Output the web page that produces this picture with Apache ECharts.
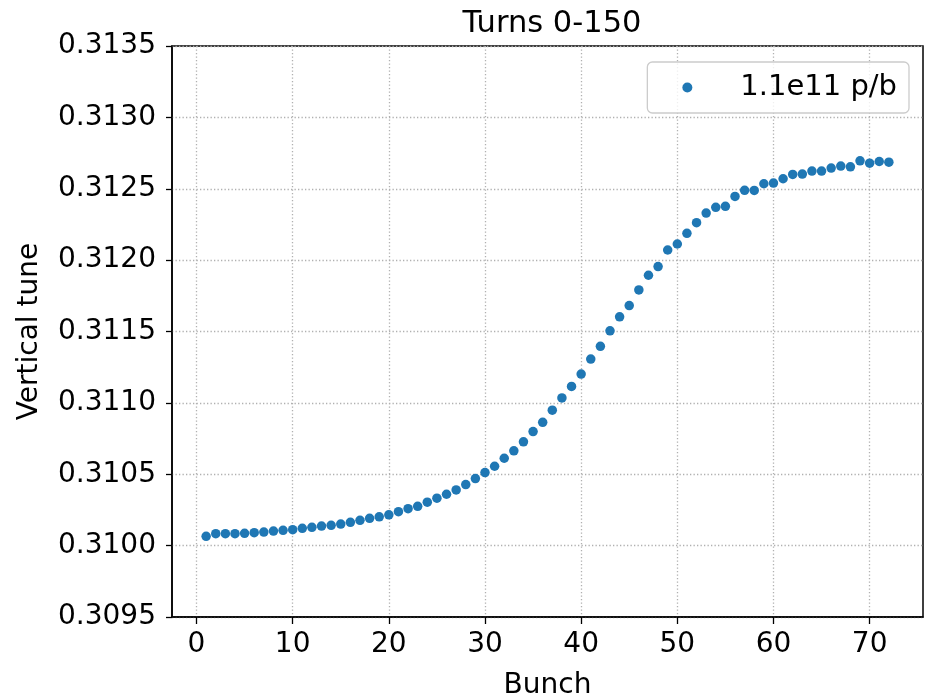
<!DOCTYPE html>
<html>
<head>
<meta charset="utf-8">
<script src="https://cdn.jsdelivr.net/npm/echarts@6/dist/echarts.min.js"></script>
<style>html,body{margin:0;padding:0;background:#fff;}#c{width:928px;height:696px;}</style>
</head>
<body>
<div id="c"></div>
<script>
const titleText = 'Turns 0-150';
const xName = 'Bunch';
const yName = 'Vertical tune';
const seriesName = '1.1e11 p/b';
const bunches = [1,2,3,4,5,6,7,8,9,10,11,12,13,14,15,16,17,18,19,20,21,22,23,24,25,26,27,28,29,30,31,32,33,34,35,36,37,38,39,40,41,42,43,44,45,46,47,48,49,50,51,52,53,54,55,56,57,58,59,60,61,62,63,64,65,66,67,68,69,70,71,72];
const tune = [0.310065,0.310084,0.310084,0.310084,0.310086,0.310091,0.310095,0.310102,0.310107,0.310112,
  0.310121,0.310128,0.310137,0.310142,0.310151,0.310163,0.310177,0.310191,0.310202,0.310216,
  0.310238,0.310259,0.310275,0.310304,0.310332,0.310360,0.310390,0.310428,0.310470,0.310512,
  0.310556,0.310612,0.310664,0.310727,0.310799,0.310864,0.310949,0.311035,0.311115,0.311202,
  0.311307,0.311396,0.311505,0.311603,0.311682,0.311791,0.311894,0.311955,0.312071,0.312113,
  0.312188,0.312262,0.312330,0.312370,0.312377,0.312446,0.312489,0.312488,0.312535,0.312540,
  0.312570,0.312600,0.312603,0.312624,0.312624,0.312645,0.312659,0.312654,0.312696,0.312679,
  0.312691,0.312686];
const xTicks = [0,10,20,30,40,50,60,70];
const xRange = [-2.55, 75.55];
const yRange = [0.3095, 0.3135];
const yStep = 0.0005;

const FONT = 'DejaVu Sans';
const chart = echarts.init(document.getElementById('c'), null, {renderer: 'canvas'});
const pts = bunches.map((b, i) => [b, tune[i]]);
const gridLine = {show: true, lineStyle: {color: '#b0b0b0', width: 1.3, type: [1.3, 2.2]}};
chart.setOption({
  animation: false,
  backgroundColor: '#fff',
  title: {text: titleText, left: 547, top: 4, textAlign: 'center',
    textStyle: {fontFamily: FONT, fontSize: 30.5, fontWeight: 'normal', color: '#000'}},
  legend: {
    data: [seriesName], right: 19, top: 62, orient: 'horizontal',
    padding: [11, 12, 11, 35], itemWidth: 10, itemHeight: 10, icon: 'circle',
    backgroundColor: 'rgba(255,255,255,0.8)', borderColor: '#cccccc', borderWidth: 1.3, borderRadius: 5,
    textStyle: {fontFamily: FONT, fontSize: 29, color: '#000', padding: [0, 0, 0, 43]}
  },
  grid: {left: 172, right: 5, top: 46, bottom: 79, show: true, borderColor: '#000', borderWidth: 1.5,
    containLabel: false, outerBoundsMode: 'none'},
  xAxis: {
    type: 'value', min: xRange[0], max: xRange[1],
    name: xName, nameLocation: 'middle', nameGap: 55,
    nameTextStyle: {fontFamily: FONT, fontSize: 28, color: '#000'},
    axisLine: {show: true, onZero: false, lineStyle: {color: '#000', width: 1.5}},
    axisTick: {show: true, inside: false, length: 7, customValues: xTicks, lineStyle: {color: '#000', width: 1.3}},
    axisLabel: {customValues: xTicks, margin: 14, fontFamily: FONT, fontSize: 28, color: '#000'},
    splitLine: gridLine
  },
  yAxis: {
    type: 'value', min: yRange[0], max: yRange[1], interval: yStep,
    name: yName, nameLocation: 'middle', nameGap: 128, nameRotate: 90,
    nameTextStyle: {fontFamily: FONT, fontSize: 28, color: '#000'},
    axisLine: {show: true, onZero: false, lineStyle: {color: '#000', width: 1.5}},
    axisTick: {show: true, inside: false, length: 6, lineStyle: {color: '#000', width: 1.3}},
    axisLabel: {margin: 16, fontFamily: FONT, fontSize: 28, color: '#000', formatter: v => v.toFixed(4)},
    splitLine: gridLine
  },
  series: [{
    name: seriesName, type: 'scatter', data: pts, symbol: 'circle', symbolSize: 9.5,
    itemStyle: {color: '#1f77b4', opacity: 1}
  }]
});
</script>
</body>
</html>
